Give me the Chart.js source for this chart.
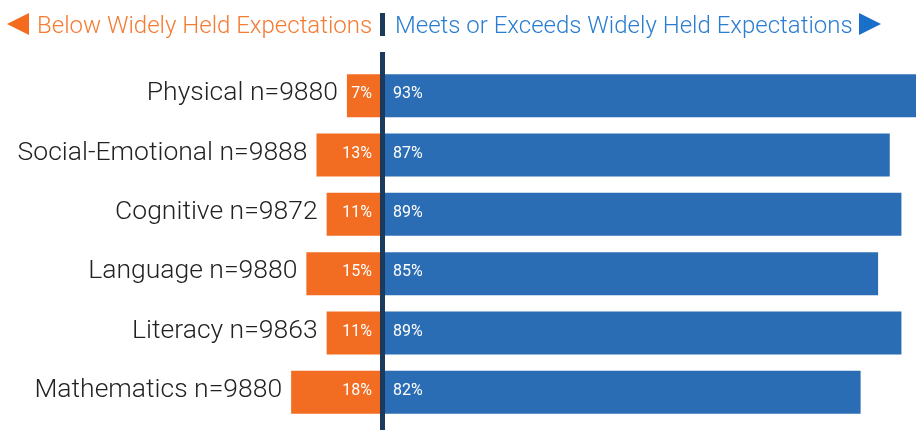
<!DOCTYPE html>
<html>
<head>
<meta charset="utf-8">
<script src="https://cdn.jsdelivr.net/npm/chart.js@4/dist/chart.umd.min.js"></script>
<style>
  html, body { margin: 0; padding: 0; background: #ffffff; }
  #wrap { position: relative; width: 916px; height: 430px; overflow: hidden; }
  #c { position: absolute; left: 0; top: 0; }
  .hdr { position: absolute; top: 13px; font-family: Roboto, "Noto Sans", sans-serif; font-weight: 300; font-size: 24px; line-height: 24px; white-space: nowrap; }
  #tl { left: 37px; color: #F47B32; }
  #tr { left: 395px; color: #2A7DCF; }
  #arrL { position: absolute; left: 7px; top: 13px; width: 0; height: 0; border-top: 11.5px solid transparent; border-bottom: 11.5px solid transparent; border-right: 22px solid #F46B1E; }
  #arrR { position: absolute; left: 859px; top: 13px; width: 0; height: 0; border-top: 11.5px solid transparent; border-bottom: 11.5px solid transparent; border-left: 22px solid #1A6FC9; }
  #sep { position: absolute; left: 380px; top: 13px; width: 5px; height: 23px; background: #1B3A5C; }
</style>
</head>
<body>
<div id="wrap">
  <canvas id="c" width="916" height="430"></canvas>
  <div id="arrL"></div>
  <div class="hdr" id="tl">Below Widely Held Expectations</div>
  <div id="sep"></div>
  <div class="hdr" id="tr">Meets or Exceeds Widely Held Expectations</div>
  <div id="arrR"></div>
</div>
<script>
// ---- data ----
const categories = ['Physical', 'Social-Emotional', 'Cognitive', 'Language', 'Literacy', 'Mathematics'];
const sampleSizes = [9880, 9888, 9872, 9880, 9863, 9880];
const belowPct = [7, 13, 11, 15, 11, 18];
const meetsPct = [93, 87, 89, 85, 89, 82];

// ---- style ----
const ORANGE = '#F26C22';
const BLUE = '#2B6DB5';
const LINE = '#1B3A5C';
const FONT = 'Roboto, "Noto Sans", sans-serif';

const labelPlugin = {
  id: 'divergingLabels',
  afterDatasetsDraw(chart) {
    const ctx = chart.ctx;
    const below = chart.getDatasetMeta(0).data;
    const meets = chart.getDatasetMeta(1).data;
    const zero = chart.scales.xMeets.getPixelForValue(0);

    // center line
    ctx.save();
    ctx.fillStyle = LINE;
    ctx.fillRect(zero - 2.5, 52, 5, chart.height - 52);

    // category labels, right-aligned next to orange bar
    ctx.fillStyle = '#222222';
    ctx.font = '300 26.5px ' + FONT;
    ctx.textAlign = 'right';
    ctx.textBaseline = 'middle';
    below.forEach((bar, i) => {
      ctx.fillText(categories[i] + ' n=' + sampleSizes[i], bar.x - 9, bar.y - 2);
    });

    // percent labels
    ctx.font = '400 16px ' + FONT;
    ctx.fillStyle = '#ffffff';
    below.forEach((bar, i) => {
      const t = belowPct[i] + '%';
      const w = ctx.measureText(t).width;
      const right = Math.max(zero - 10.5, bar.x + 2 + w);
      ctx.textAlign = 'right';
      ctx.fillText(t, right, bar.y - 1.5);
    });
    meets.forEach((bar, i) => {
      ctx.textAlign = 'left';
      ctx.fillText(meetsPct[i] + '%', zero + 10.5, bar.y - 1.5);
    });
    ctx.restore();
  }
};

new Chart(document.getElementById('c'), {
  type: 'bar',
  data: {
    labels: categories,
    datasets: [
      {
        label: 'Below Widely Held Expectations',
        data: belowPct,
        xAxisID: 'xBelow',
        backgroundColor: ORANGE,
        grouped: false,
        barPercentage: 0.725,
        categoryPercentage: 1.0
      },
      {
        label: 'Meets or Exceeds Widely Held Expectations',
        data: meetsPct,
        xAxisID: 'xMeets',
        backgroundColor: BLUE,
        grouped: false,
        barPercentage: 0.725,
        categoryPercentage: 1.0
      }
    ]
  },
  options: {
    indexAxis: 'y',
    responsive: false,
    animation: false,
    layout: { padding: { top: 66, bottom: 8, left: 0, right: 0 } },
    plugins: {
      legend: { display: false },
      tooltip: { enabled: false }
    },
    scales: {
      y: { display: false },
      xMeets: { type: 'linear', display: false, min: -65.6, max: 91.5 },
      xBelow: { type: 'linear', display: false, reverse: true, min: -105.2, max: 75.4 }
    }
  },
  plugins: [labelPlugin]
});
</script>
</body>
</html>
